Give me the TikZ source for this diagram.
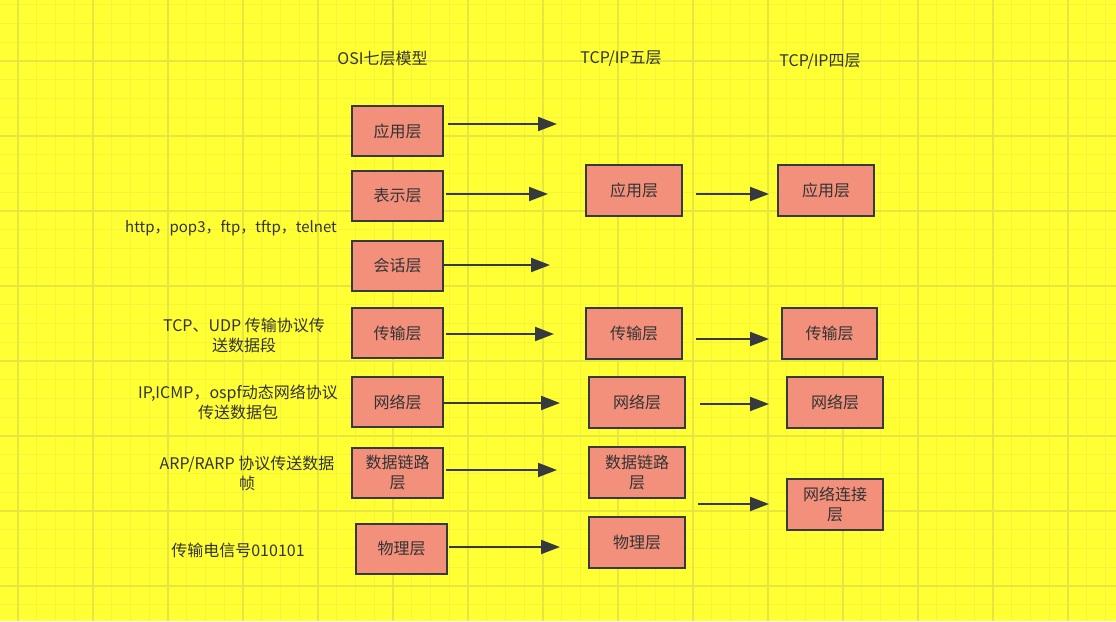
\documentclass[tikz,border=0pt]{standalone}
\usepackage{fontspec}
\setmainfont{Noto Sans CJK SC}
\usetikzlibrary{arrows.meta,calc}
\definecolor{bgyellow}{RGB}{255,255,51}
\definecolor{gridminor}{RGB}{244,244,56}
\definecolor{gridmajor}{RGB}{230,230,64}
\definecolor{boxfill}{RGB}{242,144,124}
\definecolor{boxline}{RGB}{54,57,61}
\definecolor{txt}{RGB}{51,51,51}
\tikzset{
  layer/.style={draw=boxline, line width=2pt, fill=boxfill, text=txt,
    minimum width=91pt, minimum height=50pt, inner sep=0pt, align=center,
    font=\fontsize{16}{20}\selectfont},
  wlayer/.style={layer, minimum width=96pt, minimum height=51pt},
  lbl/.style={text=txt, align=center, inner sep=0pt, font=\fontsize{16}{20}\selectfont},
  arr/.style={draw=boxline, line width=2pt, -{Triangle[length=19pt,width=14pt]}},
  gminor/.style={draw=gridminor, line width=1pt},
  gmajor/.style={draw=gridmajor, line width=1.2pt}
}
\begin{document}
\begin{tikzpicture}[x=1pt,y=-1pt]
\fill[bgyellow] (0,0) rectangle (1116,621);
\useasboundingbox (0,0) rectangle (1116,621);
\foreach \i in {0,...,60} {
  \draw[gminor] ({-0.75+\i*18.75},0) -- ++(0,621);
}
\foreach \i in {0,...,34} {
  \draw[gminor] (0,{4.75+\i*18.75}) -- ++(1116,0);
}
\foreach \i in {0,...,14} {
  \draw[gmajor] ({18+\i*75},0) -- ++(0,621);
}
\foreach \i in {0,...,9} {
  \draw[gmajor] (0,{-14+\i*75}) -- ++(1116,0);
}

% headers
\node[lbl] (h1) at (382.5,58) {OSI七层模型};
\node[lbl] (h2) at (621,59) {TCP/IP五层};
\node[lbl] (h3) at (820,62) {TCP/IP四层};

% left labels
\node[lbl, font=\fontsize{15}{20}\selectfont] (l1) at (231,228) {http，pop3，ftp，tftp，telnet};
\node[lbl] (l2) at (244,335.5) {TCP、UDP 传输协议传\\送数据段};
\node[lbl] (l3) at (238,402) {IP,ICMP，ospf动态网络协议\\传送数据包};
\node[lbl] (l4) at (247,473) {ARP/RARP 协议传送数据\\帧};
\node[lbl] (l5) at (238,550) {传输电信号010101};

% OSI column
\node[layer] (o1) at (397.5,131) {应用层};
\node[layer] (o2) at (397.5,195.5) {表示层};
\node[layer] (o3) at (397.5,265.5) {会话层};
\node[layer] (o4) at (397.5,333) {传输层};
\node[layer] (o5) at (397.5,402) {网络层};
\node[layer] (o6) at (397.5,472.5) {数据链路\\层};
\node[layer] (o7) at (401.5,548.5) {物理层};

% TCP/IP five
\node[wlayer] (t1) at (634,190.5) {应用层};
\node[wlayer] (t2) at (634,333.5) {传输层};
\node[wlayer] (t3) at (637,402) {网络层};
\node[wlayer] (t4) at (637,472) {数据链路\\层};
\node[wlayer] (t5) at (637,542) {物理层};

% TCP/IP four
\node[wlayer] (f1) at (826,190.5) {应用层};
\node[wlayer, minimum width=95pt] (f2) at (829.5,333.5) {传输层};
\node[wlayer] (f3) at (835,402) {网络层};
\node[wlayer] (f4) at (835,504) {网络连接\\层};

% free arrow ends
\coordinate (e1) at (557,124);
\coordinate (e2) at (548,194);
\coordinate (e3) at (550,265);
\coordinate (e4) at (554,334);
\coordinate (e5) at (560,403);
\coordinate (e6) at (557,470);
\coordinate (e7) at (560,547);
\coordinate (s8) at (698,504);

% OSI arrows
\draw[arr] ($(o1.east |- e1)+(4,0)$) -- (e1);
\draw[arr] ($(o2.east |- e2)+(2,0)$) -- (e2);
\draw[arr] (o3.east |- e3) -- (e3);
\draw[arr] ($(o4.east |- e4)+(2,0)$) -- (e4);
\draw[arr] (o5.east |- e5) -- (e5);
\draw[arr] ($(o6.east |- e6)+(2,0)$) -- (e6);
\draw[arr] ($(o7.east |- e7)+(1,0)$) -- (e7);

% five -> four arrows
\draw[arr] ($(t1.east)+(13,3.5)$) -- ($(f1.west)+(-8,3.5)$);
\draw[arr] ($(t2.east)+(13,5.5)$) -- ($(f2.west)+(-12,5.5)$);
\draw[arr] ($(t3.east)+(14,2)$) -- ($(f3.west)+(-17,2)$);
\draw[arr] (s8) -- ($(f4.west)+(-17,0)$);
\end{tikzpicture}
\end{document}
